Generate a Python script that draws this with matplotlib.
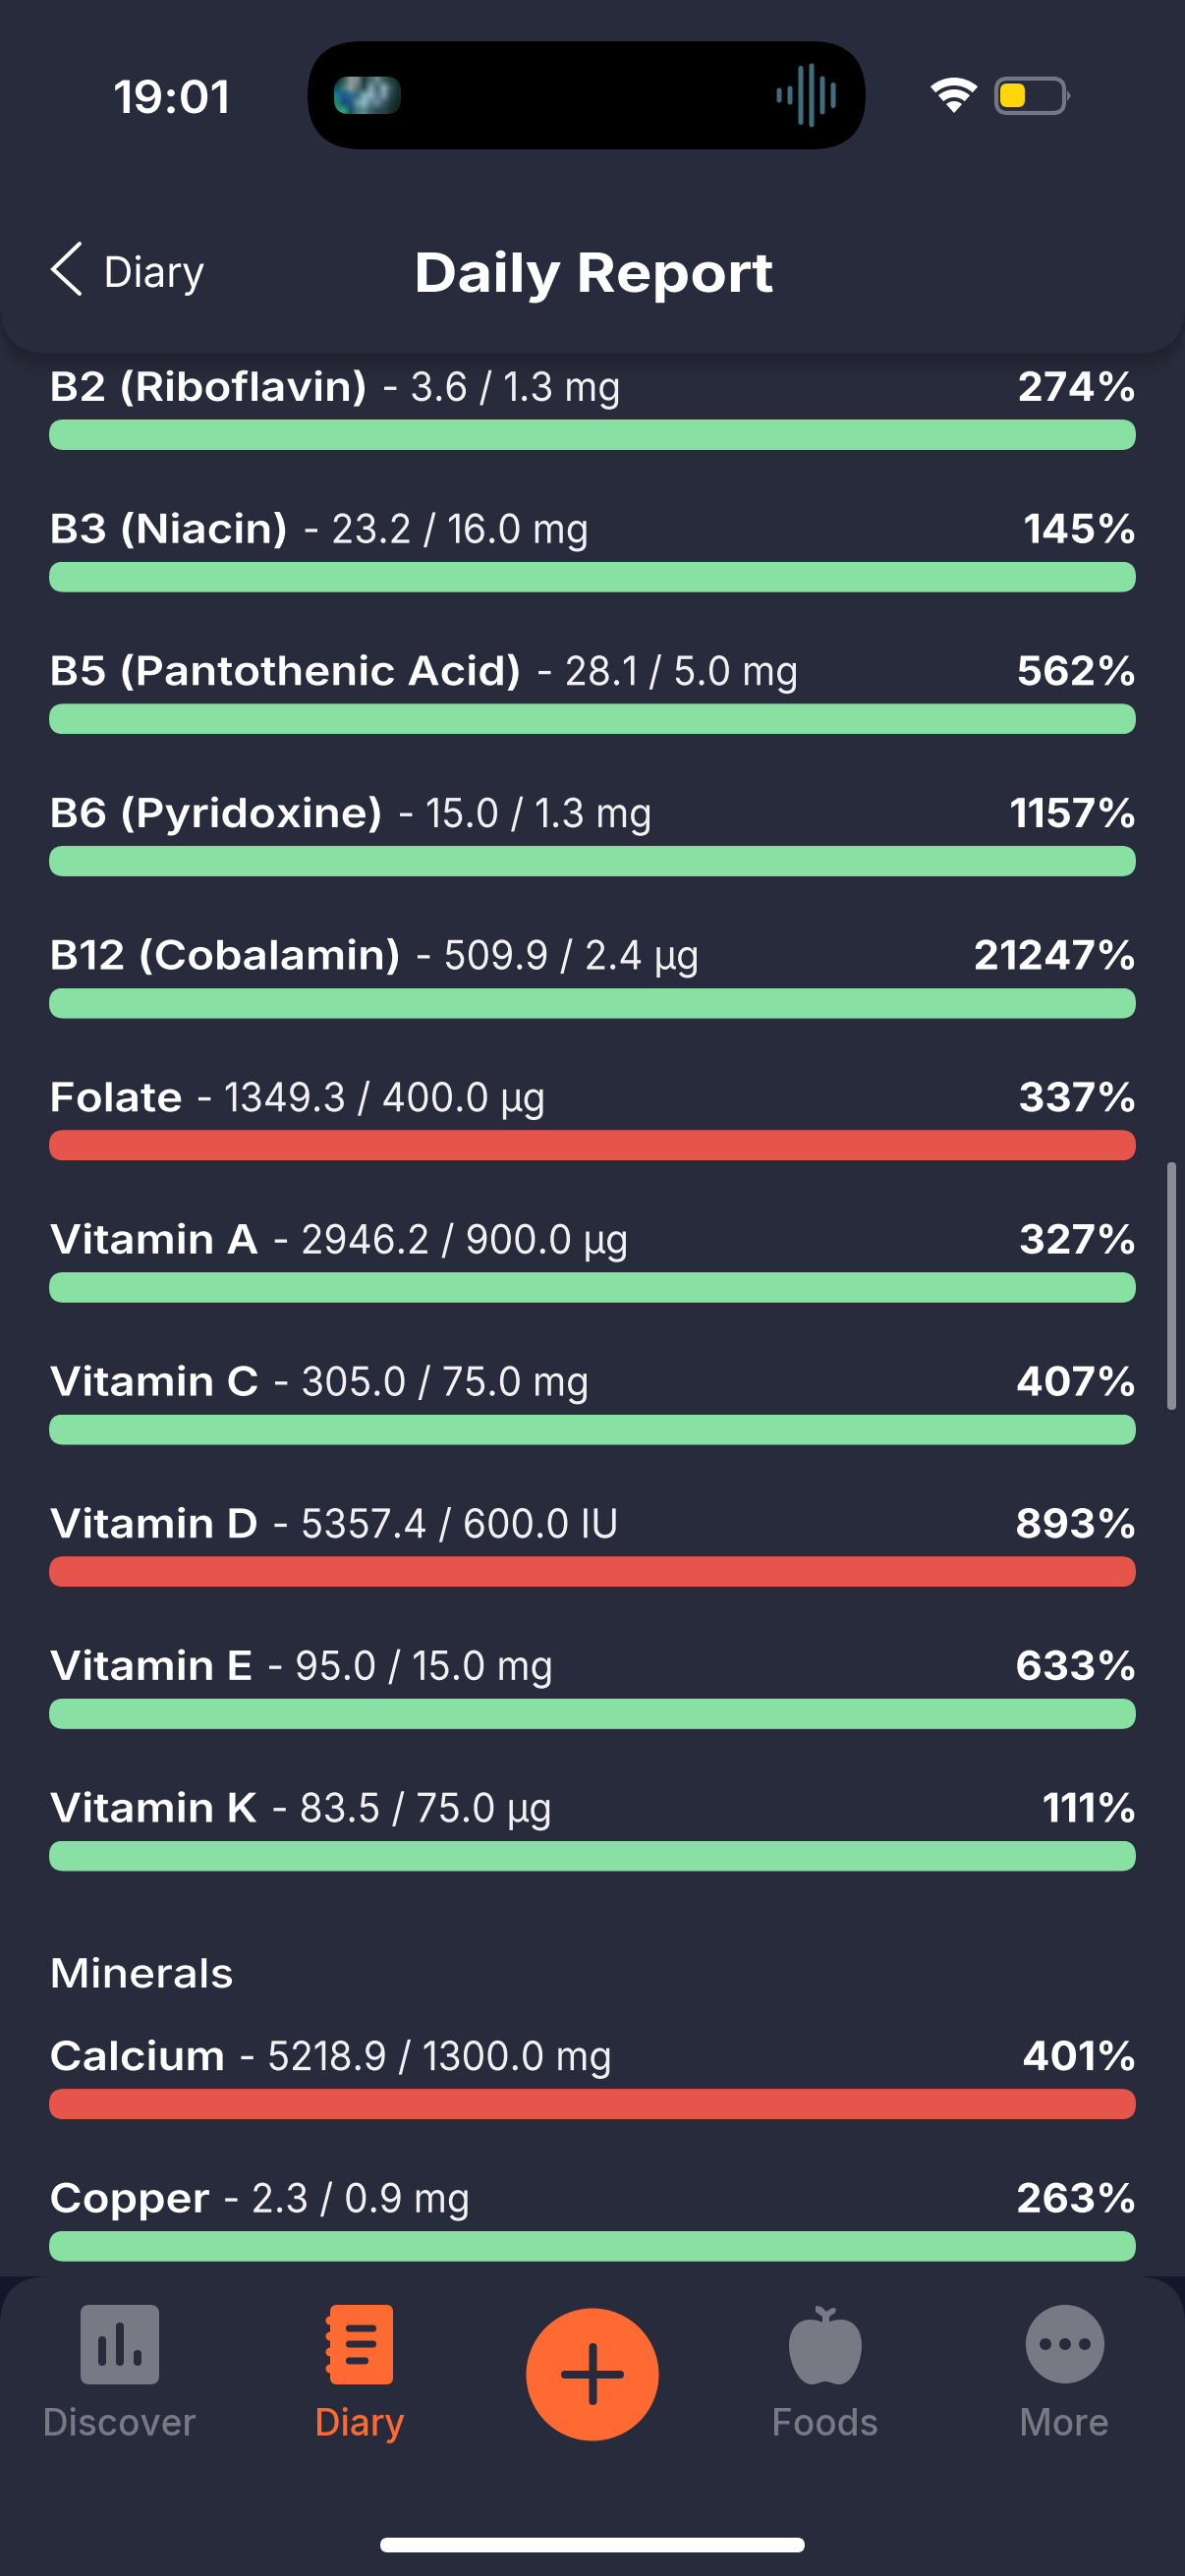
import matplotlib
matplotlib.use("Agg")
import matplotlib.pyplot as plt
from matplotlib.patches import FancyBboxPatch, Rectangle, Circle, Wedge, PathPatch, Polygon
from matplotlib.patheffects import AbstractPathEffect
from matplotlib.transforms import Affine2D
from matplotlib.colors import to_rgb
from matplotlib.path import Path
import numpy as np

# ---- data ----
nutrients = ["B2 (Riboflavin)", "B3 (Niacin)", "B5 (Pantothenic Acid)", "B6 (Pyridoxine)",
             "B12 (Cobalamin)", "Folate", "Vitamin A", "Vitamin C", "Vitamin D", "Vitamin E",
             "Vitamin K", "Calcium", "Copper"]
amounts = [3.6, 23.2, 28.1, 15.0, 509.9, 1349.3, 2946.2, 305.0, 5357.4, 95.0, 83.5, 5218.9, 2.3]
targets = [1.3, 16.0, 5.0, 1.3, 2.4, 400.0, 900.0, 75.0, 600.0, 15.0, 75.0, 1300.0, 0.9]
units = ["mg", "mg", "mg", "mg", "µg", "µg", "µg", "mg", "IU", "mg", "µg", "mg", "mg"]
percents = [274, 145, 562, 1157, 21247, 337, 327, 407, 893, 633, 111, 401, 263]
over_limit = [0, 0, 0, 0, 0, 1, 0, 0, 1, 0, 0, 1, 0]
tab_labels = ["Discover", "Diary", "Foods", "More"]

BG = "#282B3C"; GREEN = "#88E0A3"; RED = "#E5554C"; ORANGE = "#FF6A33"; GREY = "#777985"
FONT = "Inter"
W, H = 1206, 2622
fig = plt.figure(figsize=(W/100, H/100), dpi=100, facecolor=BG)

def px_axes(z):
    a = fig.add_axes([0, 0, 1, 1], zorder=z)
    a.set_xlim(0, W); a.set_ylim(H, 0); a.axis("off")
    a.patch.set_alpha(0)
    return a

def rbox(a, x0, y0, x1, y1, r, **kw):
    p = FancyBboxPatch((x0, y0), x1-x0, y1-y0, boxstyle=f"round,pad=0,rounding_size={r}",
                       linewidth=kw.pop("lw", 0), **kw)
    a.add_patch(p)
    return p

class XStretch(AbstractPathEffect):
    """Widen a text horizontally about an anchor (the reference's font is letter-spaced)."""
    def __init__(self, x0, sx):
        super().__init__()
        self.x0, self.sx = x0, sx
    def draw_path(self, renderer, gc, tpath, affine, rgbFace=None):
        a = affine + Affine2D().translate(-self.x0, 0).scale(self.sx, 1).translate(self.x0, 0)
        renderer.draw_path(gc, tpath, a, rgbFace)

PX = 72/100  # px -> pt at dpi 100
def T(a, x, y, s, size, sx=1.0, **kw):
    kw.setdefault("color", "white"); kw.setdefault("family", FONT); kw.setdefault("va", "baseline")
    t = a.text(x, y, s, fontsize=size*PX, **kw)
    if sx != 1.0:
        t.set_path_effects([XStretch(x, sx)])
    return t

# ---- chart: one bar per nutrient, capped at full width ----
BAR_L, BAR_R = 50, 1156
TOP0, PITCH, BAR_H, SECTION_GAP = 427, 144.65, 31, 108
chart = fig.add_axes([BAR_L/W, 0, (BAR_R-BAR_L)/W, 1], zorder=1)
chart.set_xlim(0, 100); chart.set_ylim(H, 0); chart.axis("off"); chart.patch.set_alpha(0)
mid = px_axes(2)
r = fig.canvas.get_renderer()
NAME_SX = 1.115
for i, n in enumerate(nutrients):
    top = TOP0 + i*PITCH + (SECTION_GAP if i >= 11 else 0)
    col = RED if over_limit[i] else GREEN
    bar = chart.barh(top+BAR_H/2, min(percents[i], 100), height=BAR_H, left=0, color=col, linewidth=0)[0]
    clip = rbox(mid, BAR_L, top, BAR_R, top+BAR_H, 15, facecolor="none")
    bar.set_clip_path(clip)
    base = top-19
    t = T(mid, 50, base, n, 41, sx=NAME_SX, weight="semibold")
    ext = t.get_window_extent(r).width
    T(mid, 50+ext*NAME_SX+13, base, f"- {amounts[i]:.1f} / {targets[i]:.1f} {units[i]}", 41, sx=0.948, weight="normal", alpha=.94)
    T(mid, 1158, base, f"{percents[i]}%", 41, sx=1.03, weight="bold", ha="right")
T(mid, 50, 2023, "Minerals", 41, sx=1.12, weight="medium")

# scrollbar
rbox(mid, 1188, 1183, 1197, 1435, 4, facecolor="#8A8C96")

# ---- header ----
top = px_axes(3)
for k in range(9):
    rbox(top, 0, -80, W, 360+k*3, 50, facecolor="black", alpha=.018)
rbox(top, 0, -80, W, 360, 50, facecolor=BG)
T(top, 115, 115, "19:01", 46, sx=1.05, weight="semibold")
rbox(top, 313, 42, 881, 152, 55, facecolor="black")
# thumbnail
thumb = [["#0f2a2a","#3a5a5a","#8a9a9a","#7a8a8a","#1f3a3a","#4a6a70","#6a8a90","#3a5a5a","#1f3f3f","#1a3030"],
         ["#0f5a60","#4a7a7a","#8fa0a0","#5a7070","#2a4a50","#7fa0b0","#4a6a70","#8fa8b8","#3a5a5a","#1a3030"],
         ["#1f7a90","#1a5a90","#2a6a90","#3a6a78","#7fa8b8","#8fb0c0","#5a7a88","#7a98a8","#2a4a4a","#153030"],
         ["#1a8a70","#1a4a80","#205a80","#6a98a8","#8fb8c0","#5a8090","#6a8898","#3a5a60","#1f3a3a","#152828"],
         ["#2a9a70","#30a080","#1a5060","#4a7a80","#5a8a90","#3a6068","#2a4a50","#2a4048","#1a3030","#152525"]]
im = top.imshow(np.array([[to_rgb(c) for c in row] for row in thumb]), extent=(340, 408, 116, 78),
                aspect="auto", interpolation="bilinear", zorder=2)
top.set_xlim(0, W); top.set_ylim(H, 0)
im.set_clip_path(rbox(top, 340, 78, 408, 116, 15, facecolor="none"))
# audio wave
for x, h in zip((793, 804, 815, 826, 837, 848), (15, 19, 60, 65, 39, 26)):
    rbox(top, x-2.5, 97-h/2, x+2.5, 97+h/2, 2.5, facecolor="#3E6E7E", zorder=2)
# wifi
for ro, wd in ((36, 8), (24, 8), (12, 12)):
    top.add_patch(Wedge((971, 115), ro, 228, 312, width=wd, facecolor="white", linewidth=0))
# battery
rbox(top, 1014, 80, 1083, 115, 11, facecolor="none", edgecolor="#747682", lw=3)
rbox(top, 1018, 85, 1043, 109, 7, facecolor="#FFD60A")
top.add_patch(Polygon([(1086, 92), (1090, 97.5), (1086, 103)], facecolor="#747682", linewidth=0))
# nav
top.plot([81, 54, 81], [248, 274, 299], color="white", lw=4*PX, solid_capstyle="round", solid_joinstyle="miter")
T(top, 105, 292, "Diary", 43, sx=0.98, weight="normal")
T(top, 421, 297, "Daily Report", 55, sx=1.12, weight="bold")

# ---- tab bar ----
top.add_patch(Rectangle((0, 2317), W, 80, facecolor="#14162A", linewidth=0))
rbox(top, 0, 2317, W, 2700, 50, facecolor=BG)
rbox(top, 82, 2346, 162, 2427, 9, facecolor=GREY)
for x, y0 in ((104, 2378), (122, 2364), (140, 2392)):
    rbox(top, x-4, y0, x+4, 2408, 4, facecolor=BG)
rbox(top, 336, 2346, 400, 2427, 7, facecolor=ORANGE)
for y in (2362, 2378, 2394, 2411):
    top.add_patch(Circle((336, y), 4.5, facecolor=ORANGE, linewidth=0))
for x1, y in ((383, 2370), (383, 2386), (375, 2403)):
    rbox(top, 352, y-3.5, x1, y+3.5, 3.5, facecolor=BG)
top.add_patch(Circle((603, 2417), 67.5, facecolor=ORANGE, linewidth=0))
rbox(top, 571, 2413, 635, 2421, 4, facecolor=BG)
rbox(top, 599.5, 2385, 607.5, 2448, 4, facecolor=BG)
# apple
verts = [(840, 2365), (832, 2361), (824, 2360), (818, 2362),
         (808, 2365), (803, 2375), (803, 2388),
         (803, 2403), (812, 2427), (826, 2427),
         (832, 2427), (835, 2424), (840, 2424),
         (845, 2424), (848, 2427), (854, 2427),
         (868, 2427), (877, 2403), (877, 2388),
         (877, 2375), (872, 2365), (862, 2362),
         (856, 2360), (848, 2361), (840, 2365)]
codes = [Path.MOVETO] + [Path.CURVE4]*24
top.add_patch(PathPatch(Path(verts, codes), facecolor=GREY, linewidth=0))
top.add_patch(Polygon([(837, 2366), (837, 2358), (830, 2353), (830, 2347), (836, 2348), (841, 2353),
                       (847, 2349), (851, 2350), (850, 2354), (844, 2358), (844, 2366)],
                      facecolor=GREY, linewidth=0))
top.add_patch(Circle((1084, 2386), 40, facecolor=GREY, linewidth=0))
for x in (1064, 1084, 1104):
    top.add_patch(Circle((x, 2386), 6, facecolor=BG, linewidth=0))
for lab, x, c in zip(tab_labels, (121, 366, 840, 1083), (GREY, ORANGE, GREY, GREY)):
    T(top, x, 2479, lab, 37, weight="medium", color=c, ha="center")
rbox(top, 387, 2583, 819, 2598, 7.5, facecolor="white")

fig.savefig("out.png", dpi=100, facecolor=BG)
